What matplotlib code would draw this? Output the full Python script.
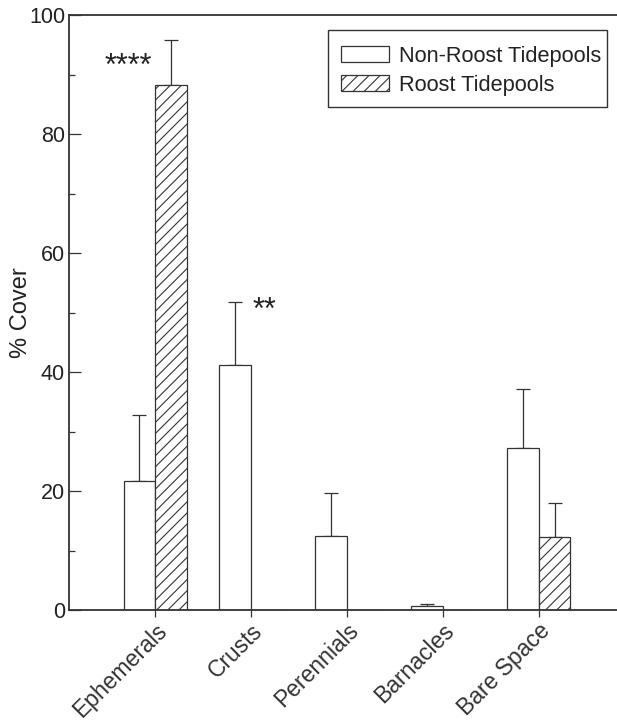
import numpy as np
import matplotlib
matplotlib.use("Agg")
import matplotlib.pyplot as plt
from matplotlib.patches import Patch, Rectangle

plt.rcParams['font.family'] = ['Liberation Sans', 'DejaVu Sans']
plt.rcParams['hatch.linewidth'] = 0.8
plt.rcParams['hatch.color'] = '#333333'

categories = ["Ephemerals", "Crusts", "Perennials", "Barnacles", "Bare Space"]
non_roost = [21.6, 41.2, 12.5, 0.6, 27.3]
non_roost_err = [11.2, 10.6, 7.2, 0.4, 9.8]
roost = [88.2, 0.0, 0.0, 0.0, 12.3]
roost_err = [7.6, 0.0, 0.0, 0.0, 5.7]
# significance markers: text, category index, x offset, baseline height
significance = [("****", 0, -0.28, 89.9), ("**", 1, 0.14, 48.9)]

fig = plt.figure(figsize=(6.17, 7.22), dpi=100)
ax = fig.add_axes([0.1123, 0.1551, 0.8877, 0.8241])

x = np.arange(len(categories))
w = 0.33
edge = '#333333'

ax.bar(x - w / 2, non_roost, width=w, color='white', edgecolor=edge,
       linewidth=0.9, zorder=2)
ax.bar(x + w / 2, roost, width=w, color='white', edgecolor=edge,
       linewidth=0.9, hatch='///', zorder=2)

nr = np.array(non_roost)
nre = np.array(non_roost_err)
ro = np.array(roost)
roe = np.array(roost_err)
m1 = nre > 0
ax.errorbar((x - w / 2)[m1], nr[m1], yerr=[np.zeros(m1.sum()), nre[m1]],
            fmt='none', ecolor=edge, elinewidth=0.9, capsize=5, capthick=0.9,
            zorder=1)
m2 = roe > 0
ax.errorbar((x + w / 2)[m2], ro[m2], yerr=[np.zeros(m2.sum()), roe[m2]],
            fmt='none', ecolor=edge, elinewidth=0.9, capsize=5, capthick=0.9,
            zorder=1)

for txt, xi, off, yv in significance:
    ax.text(xi + off, yv, txt, ha='center', va='baseline', fontsize=22,
            color='#222222')

ax.set_xlim(-0.897, 4.817)
ax.set_ylim(0, 100)
ax.set_yticks([0, 20, 40, 60, 80, 100])
ax.set_yticks([10, 30, 50, 70, 90], minor=True)
ax.set_xticks(x)
ax.set_xticklabels(categories, rotation=45, ha='right', va='top',
                   rotation_mode='anchor', fontsize=16.5, color='#222222')
ax.tick_params(axis='y', which='major', direction='in', length=8.5,
               width=0.9, labelsize=15.5, pad=3, colors='#333333',
               labelcolor='#222222')
ax.tick_params(axis='y', which='minor', direction='in', length=4.3,
               width=0.9, colors='#333333')
ax.tick_params(axis='x', which='major', direction='out', length=5,
               width=0.9, pad=1.5, colors='#333333')
ax.set_ylabel("% Cover", fontsize=17, color='#222222', labelpad=-2)

for side in ('left', 'top', 'bottom'):
    ax.spines[side].set_linewidth(1.3)
    ax.spines[side].set_color('#333333')
ax.spines['right'].set_visible(False)

# legend entries without their own frame, boxed by a separate rectangle
handles = [Patch(facecolor='white', edgecolor=edge, linewidth=0.9),
           Patch(facecolor='white', edgecolor=edge, linewidth=0.9, hatch='///')]
leg = ax.legend(handles, ["Non-Roost Tidepools", "Roost Tidepools"],
                loc='upper right', bbox_to_anchor=(0.9866, 0.963),
                fontsize=15.7, frameon=False,
                handlelength=2.2, handleheight=0.75, handletextpad=0.45,
                labelspacing=0.36, borderpad=0.4, borderaxespad=0)
for t in leg.get_texts():
    t.set_color('#222222')
ax.add_patch(Rectangle((0.4724, 0.8454), 0.5096, 0.1294,
                       transform=ax.transAxes, facecolor='none',
                       edgecolor='#333333', linewidth=1.0, zorder=5))

fig.savefig("out.png", dpi=100)
